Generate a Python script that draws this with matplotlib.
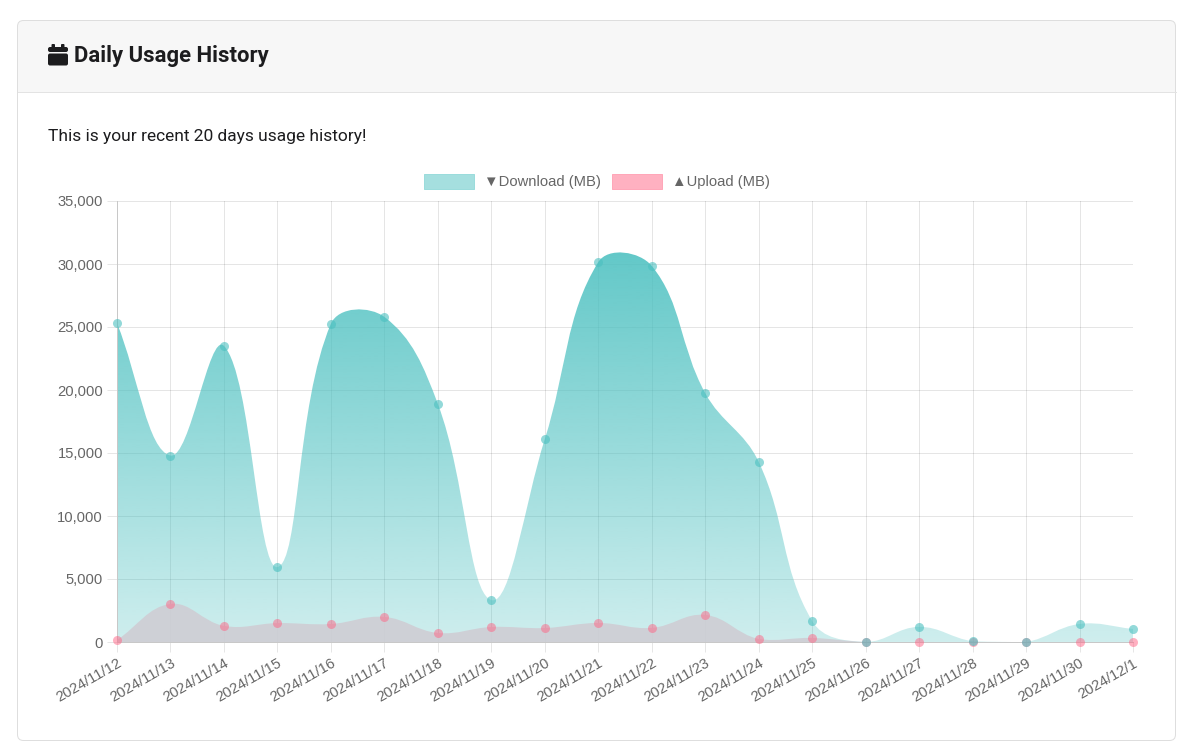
import numpy as np
import matplotlib
matplotlib.use("Agg")
import matplotlib.pyplot as plt
from matplotlib.patches import FancyBboxPatch, Rectangle, PathPatch
from matplotlib.path import Path

# data
dates = ["2024/11/12", "2024/11/13", "2024/11/14", "2024/11/15", "2024/11/16",
         "2024/11/17", "2024/11/18", "2024/11/19", "2024/11/20", "2024/11/21",
         "2024/11/22", "2024/11/23", "2024/11/24", "2024/11/25", "2024/11/26",
         "2024/11/27", "2024/11/28", "2024/11/29", "2024/11/30", "2024/12/1"]
download = [25300, 14800, 23500, 5950, 25250, 25800, 18900, 3330, 16100, 30150,
            29850, 19750, 14300, 1670, 0, 1200, 60, 0, 1430, 1040]
upload = [150, 3020, 1280, 1500, 1430, 1990, 720, 1190, 1110, 1510,
          1120, 2150, 240, 320, 0, 0, 0, 0, 0, 0]
yticks = list(range(0, 35001, 5000))

W, H = 1197, 752
PX = 0.72  # points per pixel at dpi 100
fig = plt.figure(figsize=(W / 100, H / 100), dpi=100)

# --- card background ---
bg = fig.add_axes([0, 0, 1, 1])
bg.set_xlim(0, W)
bg.set_ylim(H, 0)
bg.axis("off")

bg.add_patch(FancyBboxPatch((17.5, 20.5), 1158, 720, boxstyle="round,pad=0,rounding_size=6",
                            fc="white", ec="none"))
bg.add_patch(FancyBboxPatch((17.5, 20.5), 1158, 71, boxstyle="round,pad=0,rounding_size=6",
                            fc="#f7f7f7", ec="none"))
bg.add_patch(Rectangle((17.5, 60), 1158, 31.5, fc="#f7f7f7", ec="none"))
bg.plot([17.5, 1175.5], [91.5, 91.5], color="#e3e3e3", lw=PX)
bg.add_patch(FancyBboxPatch((17.5, 20.5), 1158, 720, boxstyle="round,pad=0,rounding_size=6",
                            fc="none", ec="#dedede", lw=PX))

# calendar icon
ic = "#1c1c1e"
bg.add_patch(FancyBboxPatch((48, 47), 20, 5, boxstyle="round,pad=0,rounding_size=2", fc=ic, ec="none"))
bg.add_patch(FancyBboxPatch((48, 53.5), 20, 12, boxstyle="round,pad=0,rounding_size=2", fc=ic, ec="none"))
bg.add_patch(FancyBboxPatch((51.5, 44), 3.5, 6, boxstyle="round,pad=0,rounding_size=1", fc=ic, ec="none"))
bg.add_patch(FancyBboxPatch((61, 44), 3.5, 6, boxstyle="round,pad=0,rounding_size=1", fc=ic, ec="none"))

title = bg.text(74, 56, "Daily Usage History", fontsize=15, fontweight="bold",
                family="Roboto", color="#1c1c1e", va="center", ha="left")
sub = bg.text(48, 137, "This is your recent 20 days usage history!", fontsize=11.5,
              family="Roboto", color="#1c1c1e", va="center", ha="left")

# legend
fam = ["Liberation Sans", "DejaVu Sans"]
bg.add_patch(Rectangle((424, 174), 50, 15, fc="#a5dfdf", ec="#9bdcdc", lw=PX))
bg.text(484, 182, "\u25bcDownload (MB)", fontsize=10.6, family=fam, color="#666666",
        va="center", ha="left")
bg.add_patch(Rectangle((612, 174), 50, 15, fc="#ffb1c1", ec="#ffa7b9", lw=PX))
bg.text(672, 182, "\u25b2Upload (MB)", fontsize=10.6, family=fam, color="#666666",
        va="center", ha="left")

# --- chart ---
L, R, T, B = 117, 1133, 201, 642
ax = fig.add_axes([L / W, (H - B) / H, (R - L) / W, (B - T) / H])
ax.patch.set_alpha(0)
n = len(dates)
xmax = n - 1
ymax = 35000
sx = (R - L) / xmax
sy = (B - T) / ymax


def spline_path(vals, tension=0.4):
    # same control points as chart.js line with tension 0.4, in pixel space
    pts = [(i * sx, v * sy) for i, v in enumerate(vals)]
    cps = []
    for i, cur in enumerate(pts):
        prev = pts[i - 1] if i > 0 else cur
        nxt = pts[i + 1] if i < len(pts) - 1 else cur
        d01 = np.hypot(cur[0] - prev[0], cur[1] - prev[1])
        d12 = np.hypot(nxt[0] - cur[0], nxt[1] - cur[1])
        tot = d01 + d12
        s01 = d01 / tot if tot else 0
        s12 = d12 / tot if tot else 0
        fa, fb = tension * s01, tension * s12
        cp_prev = [cur[0] - fa * (nxt[0] - prev[0]), cur[1] - fa * (nxt[1] - prev[1])]
        cp_next = [cur[0] + fb * (nxt[0] - prev[0]), cur[1] + fb * (nxt[1] - prev[1])]
        for cp in (cp_prev, cp_next):
            cp[0] = min(max(cp[0], 0), R - L)
            cp[1] = min(max(cp[1], 0), B - T)
        cps.append((cp_prev, cp_next))
    verts = [(0, 0), (pts[0][0] / sx, pts[0][1] / sy)]
    codes = [Path.MOVETO, Path.LINETO]
    for i in range(1, len(pts)):
        a = cps[i - 1][1]
        b = cps[i][0]
        verts += [(a[0] / sx, a[1] / sy), (b[0] / sx, b[1] / sy), (pts[i][0] / sx, pts[i][1] / sy)]
        codes += [Path.CURVE4] * 3
    verts += [(xmax, 0), (0, 0)]
    codes += [Path.LINETO, Path.CLOSEPOLY]
    return Path(verts, codes)


# download: vertical gradient clipped to the curve
teal = np.array([75, 192, 192]) / 255
grad = np.zeros((256, 1, 4))
grad[:, 0, :3] = teal
grad[:, 0, 3] = np.linspace(0.27, 0.95, 256)
dl_patch = PathPatch(spline_path(download), fc="none", ec="none")
ax.add_patch(dl_patch)
im = ax.imshow(grad, extent=[0, xmax, 0, ymax], origin="lower", aspect="auto",
               interpolation="bilinear", zorder=1)
im.set_clip_path(dl_patch)

# upload area
ax.add_patch(PathPatch(spline_path(upload), fc="#cfcdd4", ec="none", alpha=0.9, zorder=2))

x = np.arange(n)
ax.plot(x, upload, "o", ms=6.5, color=(1, 99 / 255, 132 / 255), alpha=0.5, mec="none", zorder=3,
        clip_on=False)
ax.plot(x, download, "o", ms=6.5, color=teal, alpha=0.6, mec="none", zorder=4, clip_on=False)

ax.set_xlim(0, xmax)
ax.set_ylim(0, ymax)
ax.set_yticks(yticks)
ax.set_yticklabels([f"{v:,}" for v in yticks])
ax.set_xticks(x)
ax.set_xticklabels(dates, rotation=30, ha="right", rotation_mode="anchor")
for lab in ax.get_xticklabels() + ax.get_yticklabels():
    lab.set_family(fam)
ax.tick_params(axis="both", length=10 * PX, width=PX, color="#e6e6e6",
               labelcolor="#666666", labelsize=10.6, pad=4 * PX)
ax.grid(True, color="black", alpha=0.1, lw=PX)
ax.set_axisbelow(True)
for s in ("top", "right"):
    ax.spines[s].set_visible(False)
for s in ("left", "bottom"):
    ax.spines[s].set_color("#c8c8c8")
    ax.spines[s].set_linewidth(PX)

# size header texts to the widths measured in the reference
fig.canvas.draw()
r = fig.canvas.get_renderer()
for t, w in ((title, 196), (sub, 321)):
    t.set_fontsize(t.get_fontsize() * w / t.get_window_extent(r).width)

fig.savefig("out.png", dpi=100)
